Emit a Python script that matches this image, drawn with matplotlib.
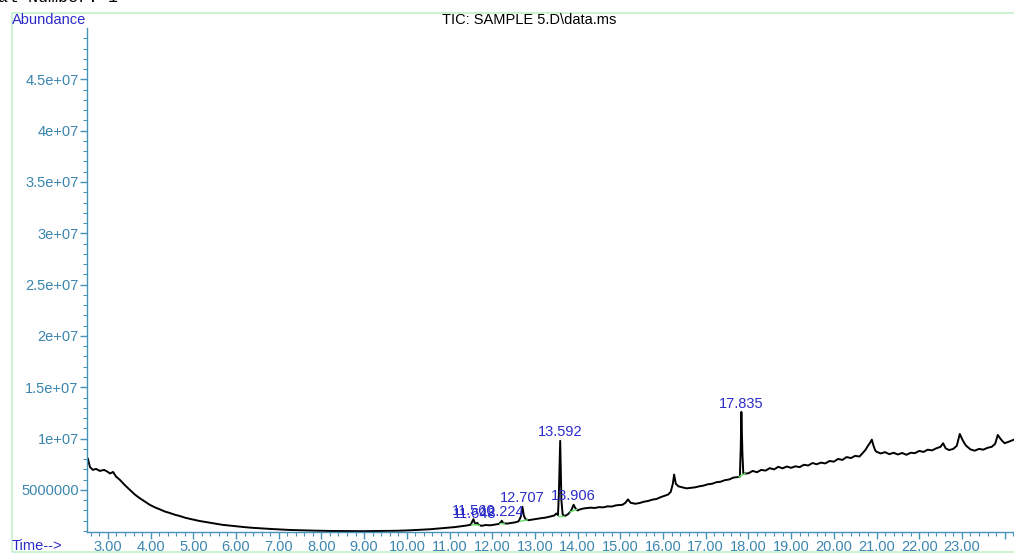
import matplotlib
matplotlib.use("Agg")
import matplotlib.pyplot as plt
from matplotlib.ticker import FixedLocator, FuncFormatter
from matplotlib.patches import Rectangle

plt.rcParams["font.family"] = ["Liberation Sans", "DejaVu Sans"]

# retention time (min) and abundance (millions)
time_min = [
    2.51, 2.53, 2.58, 2.65, 2.72, 2.81, 2.91, 2.98, 3.05, 3.12, 3.19, 3.28,
    3.40, 3.52, 3.63, 3.75, 3.87, 3.98, 4.10, 4.22, 4.33, 4.45, 4.57, 4.69,
    4.80, 4.92, 5.15, 5.33, 5.51, 5.68, 5.86, 6.03, 6.21, 6.38, 6.56, 6.80,
    7.03, 7.25, 7.50, 7.85, 8.20, 8.60, 8.97, 9.35, 9.77, 10.05, 10.31, 10.55,
    10.78, 10.95, 11.13, 11.31, 11.43, 11.50, 11.53, 11.56, 11.59, 11.62, 11.648,
    11.68, 11.75, 11.85, 11.95, 12.05, 12.15, 12.20, 12.224, 12.26, 12.35, 12.45,
    12.55, 12.62, 12.67, 12.707, 12.74, 12.78, 12.85, 12.95, 13.05, 13.15, 13.25,
    13.35, 13.45, 13.50, 13.54, 13.56, 13.592, 13.62, 13.65, 13.70, 13.78, 13.85,
    13.906, 13.95, 14.00, 14.05, 14.15, 14.30, 14.40, 14.50, 14.60, 14.70, 14.80,
    14.90, 15.05, 15.12, 15.18, 15.24, 15.35, 15.45, 15.55, 15.65, 15.75, 15.85,
    15.95, 16.05, 16.12, 16.18, 16.23, 16.26, 16.30, 16.36, 16.45, 16.55, 16.65,
    16.75, 16.85, 16.95, 17.05, 17.15, 17.25, 17.35, 17.45, 17.55, 17.65, 17.75,
    17.80, 17.82, 17.835, 17.86, 17.88, 17.95, 18.00, 18.10, 18.20, 18.30, 18.40,
    18.50, 18.60, 18.70, 18.80, 18.90, 19.00, 19.10, 19.20, 19.30, 19.40, 19.50,
    19.60, 19.70, 19.80, 19.90, 20.00, 20.10, 20.20, 20.30, 20.40, 20.50, 20.60,
    20.70, 20.75, 20.80, 20.85, 20.89, 20.93, 20.97, 21.00, 21.10, 21.20, 21.30,
    21.40, 21.50, 21.60, 21.70, 21.80, 21.90, 22.00, 22.10, 22.20, 22.30, 22.40,
    22.50, 22.56, 22.62, 22.70, 22.80, 22.88, 22.95, 23.00, 23.05, 23.10, 23.20,
    23.30, 23.40, 23.50, 23.60, 23.70, 23.78, 23.84, 23.90, 23.95, 24.00, 24.10,
    24.22,
]
abundance_m = [
    7.70, 8.06, 7.22, 6.95, 7.05, 6.85, 6.95, 6.80, 6.60, 6.75, 6.30, 5.98,
    5.45, 4.98, 4.55, 4.18, 3.85, 3.55, 3.30, 3.10, 2.90, 2.75, 2.58, 2.45,
    2.30, 2.18, 1.97, 1.84, 1.72, 1.60, 1.52, 1.44, 1.37, 1.31, 1.26, 1.20,
    1.15, 1.10, 1.07, 1.03, 1.00, 0.99, 0.98, 1.00, 1.02, 1.06, 1.12, 1.17,
    1.25, 1.30, 1.38, 1.48, 1.55, 1.62, 1.90, 2.15, 1.80, 1.65, 1.80,
    1.60, 1.50, 1.58, 1.55, 1.62, 1.68, 1.85, 2.00, 1.75, 1.72, 1.78,
    1.85, 1.95, 2.40, 3.35, 2.50, 2.15, 2.05, 2.12, 2.20, 2.25, 2.30,
    2.40, 2.50, 2.70, 2.55, 4.50, 9.78, 4.00, 2.60, 2.45, 2.65, 3.00,
    3.55, 3.20, 3.00, 3.10, 3.20, 3.27, 3.24, 3.32, 3.30, 3.40, 3.38,
    3.50, 3.55, 3.75, 4.08, 3.75, 3.65, 3.72, 3.85, 3.92, 4.05, 4.12,
    4.30, 4.45, 4.55, 4.80, 5.60, 6.50, 5.60, 5.35, 5.25, 5.15, 5.20,
    5.25, 5.35, 5.42, 5.55, 5.60, 5.75, 5.80, 5.95, 6.02, 6.20, 6.25,
    6.30, 9.00, 12.60, 8.50, 6.60, 6.60, 6.62, 6.85, 6.72, 6.95, 6.88,
    7.12, 7.00, 7.25, 7.10, 7.28, 7.15, 7.30, 7.22, 7.45, 7.38, 7.62,
    7.50, 7.66, 7.58, 7.82, 7.75, 8.02, 7.92, 8.20, 8.10, 8.32, 8.25,
    8.70, 8.95, 9.30, 9.60, 9.90, 9.30, 8.85, 8.72, 8.55, 8.68, 8.48,
    8.62, 8.45, 8.60, 8.42, 8.62, 8.58, 8.80, 8.70, 8.92, 8.85, 9.05,
    9.20, 9.55, 9.05, 8.88, 9.00, 9.30, 10.45, 10.00, 9.60, 9.30, 8.95,
    8.82, 9.00, 8.92, 9.10, 9.20, 9.50, 10.35, 10.00, 9.75, 9.55, 9.70,
    9.90,
]

# labelled peaks: retention time and apex abundance (millions)
peak_rt = [11.560, 11.648, 12.224, 12.707, 13.592, 13.906, 17.835]
peak_top_m = [2.15, 1.80, 2.00, 3.35, 9.78, 3.55, 12.60]
peak_label = ["11.560", "11.648", "12.224", "12.707", "13.592", "13.906", "17.835"]

# green integration baselines: start rt, start abund, end rt, end abund
base_t0 = [11.52, 11.62, 12.18, 12.66, 13.53, 13.82, 17.78]
base_v0 = [1.58, 1.62, 1.70, 1.95, 2.50, 2.85, 6.28]
base_t1 = [11.62, 11.70, 12.28, 12.82, 13.68, 13.98, 17.92]
base_v1 = [1.62, 1.55, 1.74, 2.08, 2.50, 3.10, 6.60]

AXIS_COLOR = "#4a93b8"
LABEL_BLUE = "#2b2bc8"
FS = 10.5

fig = plt.figure(figsize=(10.14, 5.54), dpi=100)
ax = fig.add_axes([87 / 1014, 1 - 532 / 554, 1 - 87 / 1014, (532 - 28) / 554])

# light green report frame
fig.patches.append(Rectangle((12 / 1014, 2 / 554), 1.0, 1 - 15 / 554,
                             transform=fig.transFigure, fill=False,
                             edgecolor="#c4f0cc", linewidth=1.2))

ax.plot(time_min, [v * 1e6 for v in abundance_m], color="black", linewidth=1.4)

for t0, v0, t1, v1 in zip(base_t0, base_v0, base_t1, base_v1):
    ax.plot([t0, t1], [v0 * 1e6, v1 * 1e6], color="#66dd66", linewidth=1.0)

for rt, top, lab in zip(peak_rt, peak_top_m, peak_label):
    dx = 0 if lab != "11.648" else -2
    ax.annotate(lab, (rt, top * 1e6), xytext=(dx, 1), textcoords="offset points",
                ha="center", va="bottom", fontsize=FS, color=LABEL_BLUE)

ax.set_xlim(2.51, 24.22)
ax.set_ylim(0.9e6, 5.0e7)

for s in ["top", "right"]:
    ax.spines[s].set_visible(False)
for s in ["left", "bottom"]:
    ax.spines[s].set_color(AXIS_COLOR)
    ax.spines[s].set_linewidth(1.0)

xmaj = [float(v) for v in range(3, 25)]
xmin = [2.6 + 0.2 * i for i in range(109)]
ax.xaxis.set_major_locator(FixedLocator(xmaj))
ax.xaxis.set_minor_locator(FixedLocator(xmin))
ax.xaxis.set_major_formatter(FuncFormatter(lambda v, p: "" if v > 23.5 else f"{v:.2f}"))

ymaj = [5e6 * i for i in range(1, 10)]
ymin = [1e6 * i for i in range(1, 50)]
ax.yaxis.set_major_locator(FixedLocator(ymaj))
ax.yaxis.set_minor_locator(FixedLocator(ymin))
ax.yaxis.set_major_formatter(FuncFormatter(
    lambda v, p: "5000000" if v < 6e6 else f"{v:.1e}".replace(".0e", "e")))

ax.tick_params(axis="both", which="major", colors=AXIS_COLOR, labelsize=FS,
               length=5, width=1.0, pad=1)
ax.tick_params(axis="both", which="minor", colors=AXIS_COLOR, length=3, width=0.8)
ax.tick_params(axis="both", labelcolor="#3a86b0")

fig.text(12 / 1014, 1 - 20 / 554, "Abundance", color=LABEL_BLUE, fontsize=FS,
         ha="left", va="center")
fig.text(12 / 1014, 1 - 546 / 554, "Time-->", color=LABEL_BLUE, fontsize=FS,
         ha="left", va="center")
fig.text(529 / 1014, 1 - 20 / 554, "TIC: SAMPLE 5.D\\data.ms", color="black",
         fontsize=FS, ha="center", va="center")
fig.text(-22 / 1014, 1 + 3 / 554, "Vial Number: 1", color="black", fontsize=12,
         family="Liberation Mono", ha="left", va="center")

fig.savefig("out.png", dpi=100)
